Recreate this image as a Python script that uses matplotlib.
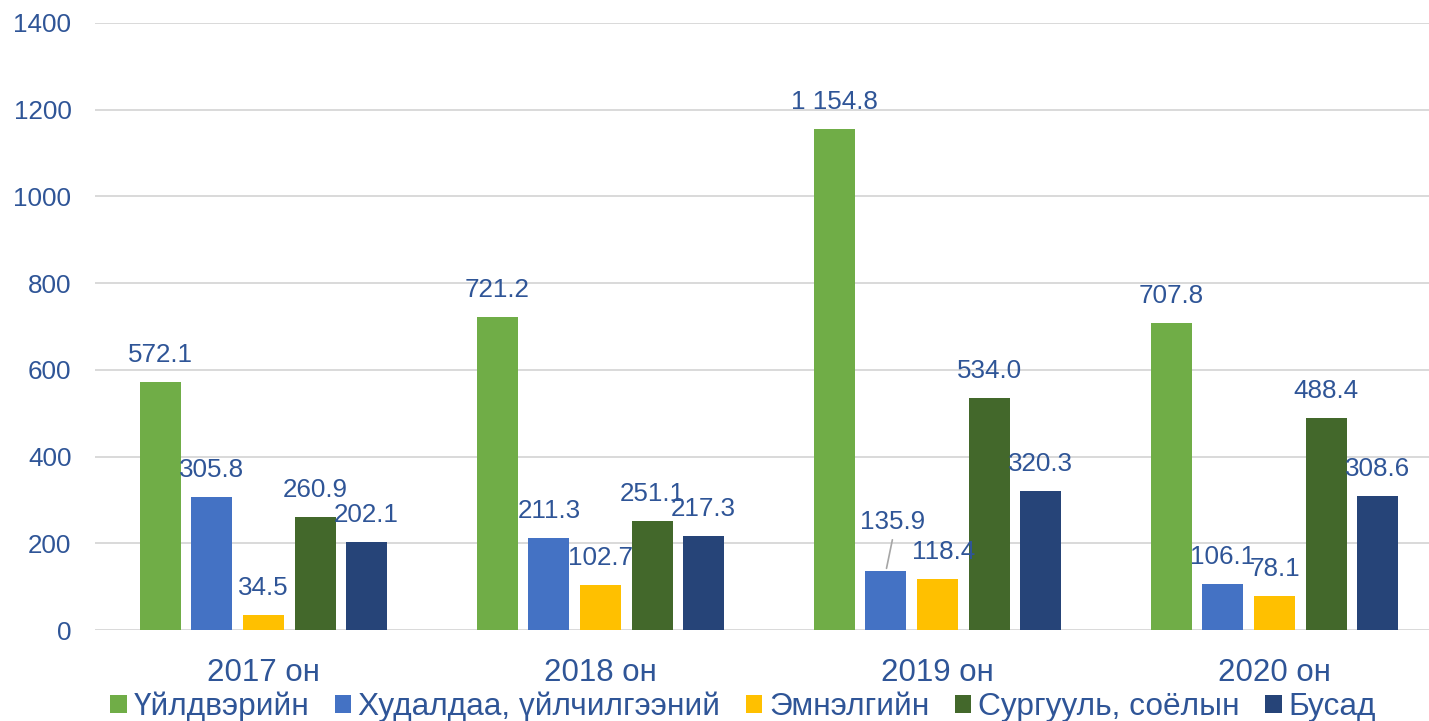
import numpy as np
import matplotlib.pyplot as plt

plt.rcParams['font.family'] = ['Liberation Sans', 'DejaVu Sans']

years = ['2017 он', '2018 он', '2019 он', '2020 он']
series = ['Үйлдвэрийн', 'Худалдаа, үйлчилгээний', 'Эмнэлгийн', 'Сургууль, соёлын', 'Бусад']
uildver = [572.1, 721.2, 1154.8, 707.8]
hudaldaa = [305.8, 211.3, 135.9, 106.1]
emneleg = [34.5, 102.7, 118.4, 78.1]
surguuli = [260.9, 251.1, 534.0, 488.4]
busad = [202.1, 217.3, 320.3, 308.6]
values = [uildver, hudaldaa, emneleg, surguuli, busad]
colors = ['#70AD47', '#4472C4', '#FFC000', '#43682B', '#264478']

txt = '#2F5597'
px = 72 / 100  # points per pixel

fig = plt.figure(figsize=(14.29, 7.21), dpi=100)
ax = fig.add_axes([95 / 1429, 1 - 630 / 721, 1348 / 1429, 607 / 721])

x = np.arange(len(years))
pitch = 0.153
width = 0.122
for i, (vals, col, name) in enumerate(zip(values, colors, series)):
    pos = x + (i - 2) * pitch
    ax.bar(pos, vals, width, color=col, label=name, zorder=3)
    for j, (p, v) in enumerate(zip(pos, vals)):
        lab = f'{v:,.1f}'.replace(',', ' ')
        dx, dy = 0, 27
        if i == 1 and j == 2:
            dx, dy = 7, 49
            ax.annotate('', xy=(p, v), xytext=(dx * px, (dy - 15) * px),
                        textcoords='offset points',
                        arrowprops=dict(arrowstyle='-', color='#A6A6A6', lw=1.2))
        if i == 2 and j == 2:
            dx = 6
        ax.annotate(lab, xy=(p, v), xytext=(dx * px, dy * px), textcoords='offset points',
                    ha='center', va='center', fontsize=18.7, color=txt, zorder=4)

ax.set_xlim(-0.5, 3.5)
ax.set_ylim(0, 1400)
ax.set_yticks(range(0, 1401, 200))
ax.set_xticks(x)
ax.set_xticklabels(years)
ax.yaxis.grid(True, color='#D9D9D9', lw=1.4, zorder=0)
for s in ['top', 'right', 'left', 'bottom']:
    ax.spines[s].set_visible(False)
ax.tick_params(axis='both', length=0, colors=txt)
ax.tick_params(axis='y', labelsize=18.7, pad=17)
ax.tick_params(axis='x', labelsize=22.5, pad=20)

fig.legend(loc='center', bbox_to_anchor=(743 / 1429, 1 - 707 / 721), ncol=5,
           frameon=False, fontsize=22.8, labelcolor=txt, handlelength=0.52,
           handleheight=0.52, handletextpad=0.22, columnspacing=0.8,
           borderaxespad=0, borderpad=0)

fig.savefig('out.png', dpi=100)
